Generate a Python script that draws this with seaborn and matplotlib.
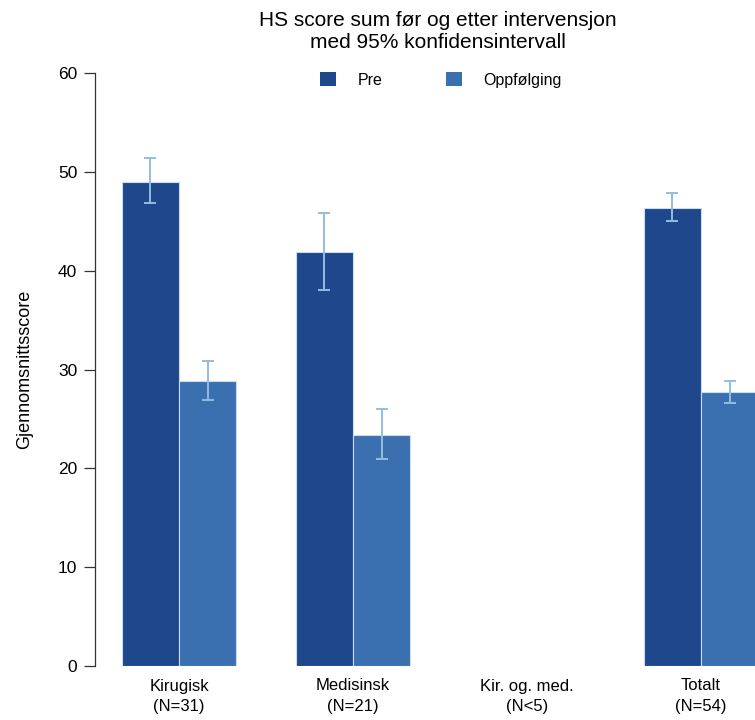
import numpy as np
import pandas as pd
import matplotlib
matplotlib.use("Agg")
import matplotlib.pyplot as plt
import seaborn as sns

# Mean HS score per patient group, before and after intervention
categories = ["Kirugisk", "Medisinsk", "Kir. og. med.", "Totalt"]
n_labels = ["(N=31)", "(N=21)", "(N<5)", "(N=54)"]
series = ["Pre", "Oppfølging"]
pre_mean = [49.0, 41.9, np.nan, 46.3]
pre_lo = [46.8, 38.0, np.nan, 45.0]
pre_hi = [51.4, 45.8, np.nan, 47.9]
oppf_mean = [28.8, 23.4, np.nan, 27.7]
oppf_lo = [26.9, 20.9, np.nan, 26.6]
oppf_hi = [30.9, 26.0, np.nan, 28.8]
y_ticks = [0, 10, 20, 30, 40, 50, 60]

colors = {"Pre": "#1F478C", "Oppfølging": "#3A70B0"}
err_color = "#93BDE0"

sns.set_style("white")
plt.rcParams["font.family"] = ["Liberation Sans", "DejaVu Sans"]
plt.rcParams["text.color"] = "black"
plt.rcParams["axes.labelcolor"] = "black"
plt.rcParams["xtick.color"] = "black"
plt.rcParams["ytick.color"] = "black"

df = pd.DataFrame({
    "gruppe": categories * 2,
    "tid": [series[0]] * 4 + [series[1]] * 4,
    "score": pre_mean + oppf_mean,
    "lo": pre_lo + oppf_lo,
    "hi": pre_hi + oppf_hi,
})

fig = plt.figure(figsize=(7.55, 7.2), dpi=100)
ax = fig.add_axes([105 / 755, 54 / 720, 650 / 755, 593 / 720])

sns.barplot(data=df, x="gruppe", y="score", hue="tid", order=categories,
            hue_order=series, palette=colors, width=0.66, gap=0,
            saturation=1, errorbar=None, edgecolor="#C9DDF0", linewidth=0.8,
            legend=False, ax=ax)

# Confidence intervals drawn at the centre of each bar
for cont, s in zip(ax.containers, series):
    sub = df[df["tid"] == s].set_index("gruppe")
    for bar in cont:
        xc = bar.get_x() + bar.get_width() / 2
        cat = categories[int(round(xc))]
        row = sub.loc[cat]
        if np.isnan(row["score"]):
            continue
        ax.errorbar(xc, row["score"],
                    yerr=[[row["score"] - row["lo"]], [row["hi"] - row["score"]]],
                    fmt="none", ecolor=err_color, elinewidth=1.4,
                    capsize=4, capthick=1.4, zorder=5)

ax.set_xlim(-0.4253, 3.310)
ax.set_ylim(0, 60)
ax.set_yticks(y_ticks)
ax.set_yticklabels([str(t) for t in y_ticks])
ax.set_xticks(range(len(categories)))
ax.set_xticklabels([f"{c}\n{n}" for c, n in zip(categories, n_labels)],
                   linespacing=1.45)
ax.tick_params(axis="x", length=0, pad=9, labelsize=12)
ax.tick_params(axis="y", length=8, width=0.9, color="#333333", pad=5,
               left=True, labelsize=12.5)
ax.set_xlabel("")
ax.set_ylabel("Gjennomsnittsscore", fontsize=13, labelpad=18)

for side in ["top", "right", "bottom"]:
    ax.spines[side].set_visible(False)
ax.spines["left"].set_position(("outward", 7))
ax.spines["left"].set_bounds(0, 60)
ax.spines["left"].set_color("#333333")
ax.spines["left"].set_linewidth(0.9)

fig.text(438 / 755, 1 - 32 / 720,
         "HS score sum før og etter intervensjon\nmed 95% konfidensintervall",
         ha="center", va="center", fontsize=15, linespacing=1.2)

handles = [plt.Rectangle((0, 0), 1, 1, facecolor=colors[s], edgecolor="none")
           for s in series]
fig.legend(handles, series, loc="center", bbox_to_anchor=(441 / 755, 1 - 80 / 720),
           ncol=2, frameon=False, fontsize=11.5, handlelength=1.0, handleheight=1.0,
           columnspacing=3.95, handletextpad=1.35)

fig.savefig("out.png", dpi=100)
